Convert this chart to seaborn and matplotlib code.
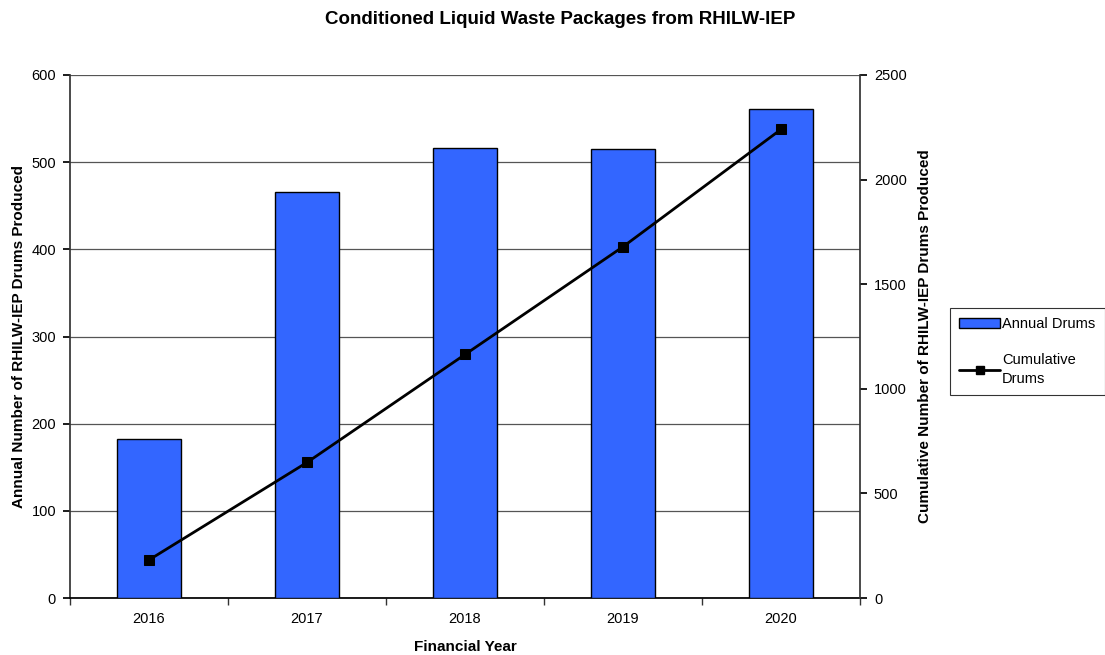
import matplotlib
matplotlib.use("Agg")
import matplotlib.pyplot as plt
from matplotlib.lines import Line2D
from matplotlib.patches import Patch
import seaborn as sns
import pandas as pd
import numpy as np

years = ["2016", "2017", "2018", "2019", "2020"]
annual_drums = [182, 466, 516, 515, 561]
cumulative_drums = list(np.cumsum(annual_drums))
left_ticks = [0, 100, 200, 300, 400, 500, 600]
right_ticks = [0, 500, 1000, 1500, 2000, 2500]

sns.set_theme(style="white")
plt.rcParams["font.family"] = ["Liberation Sans", "DejaVu Sans"]
plt.rcParams["text.color"] = "black"
plt.rcParams["axes.labelcolor"] = "black"

df = pd.DataFrame({"year": years, "annual": annual_drums, "cumulative": cumulative_drums})

fig = plt.figure(figsize=(11.05, 6.55), dpi=100)
ax = fig.add_axes([70 / 1105, 57 / 655, 790 / 1105, 523 / 655])

sns.barplot(data=df, x="year", y="annual", color="#3366FF", saturation=1,
            width=0.4, edgecolor="black", linewidth=1, ax=ax, zorder=3)

ax.set_xlim(-0.5, 4.5)
ax.set_ylim(0, 600)
ax.set_yticks(left_ticks)
ax.yaxis.grid(True, color="#555555", linewidth=0.9)
ax.set_axisbelow(True)
for side in ["top", "right"]:
    ax.spines[side].set_visible(False)
ax.spines["left"].set_color("#333333")
ax.spines["bottom"].set_color("black")
ax.tick_params(axis="y", which="major", direction="out", length=5, left=True,
               labelsize=10.5, colors="black", pad=5)
ax.set_xticks(range(len(years)))
ax.set_xticklabels(years)
ax.set_xticks(np.arange(-0.5, 4.6, 1.0), minor=True)
ax.tick_params(axis="x", which="major", length=0, labelsize=10.5, pad=10, colors="black")
ax.tick_params(axis="x", which="minor", direction="out", length=5, bottom=True,
               color="#333333")
ax.set_xlabel("Financial Year", fontsize=11, fontweight="bold", labelpad=10)
ax.set_ylabel("Annual Number of RHILW-IEP Drums Produced", fontsize=11,
              fontweight="bold", labelpad=4)

ax2 = ax.twinx()
sns.lineplot(x=np.arange(len(years)), y=cumulative_drums, ax=ax2, color="black",
             linewidth=2, marker="s", markersize=7, markeredgecolor="black", zorder=4)
ax2.set_ylim(0, 2500)
ax2.set_yticks(right_ticks)
for side in ["top", "left", "bottom"]:
    ax2.spines[side].set_visible(False)
ax2.spines["right"].set_color("#333333")
ax2.tick_params(axis="y", direction="out", length=5, right=True, labelsize=10.5,
                colors="black", pad=5)
ax2.set_ylabel("Cumulative Number of RHILW-IEP Drums Produced", fontsize=11,
               fontweight="bold", labelpad=8)
ax2.grid(False)

fig.text(0.507, 1 - 20 / 655, "Conditioned Liquid Waste Packages from RHILW-IEP",
         ha="center", va="center", fontsize=13.5, fontweight="bold")

handles = [Patch(facecolor="#3366FF", edgecolor="black", label="Annual Drums"),
           Line2D([0], [0], color="black", linewidth=2, marker="s", markersize=6,
                  label="Cumulative\nDrums")]
leg = fig.legend(handles=handles, loc="upper left", bbox_to_anchor=(950 / 1105, 1 - 308 / 655),
                 borderaxespad=0, frameon=True, fancybox=False, edgecolor="black",
                 fontsize=10.5, handlelength=2.8, handletextpad=0.1, labelspacing=1.5,
                 borderpad=0.65)
for t in leg.get_texts():
    t.set_linespacing(1.4)
leg.get_frame().set_linewidth(0.8)

fig.savefig("out.png", dpi=100)
